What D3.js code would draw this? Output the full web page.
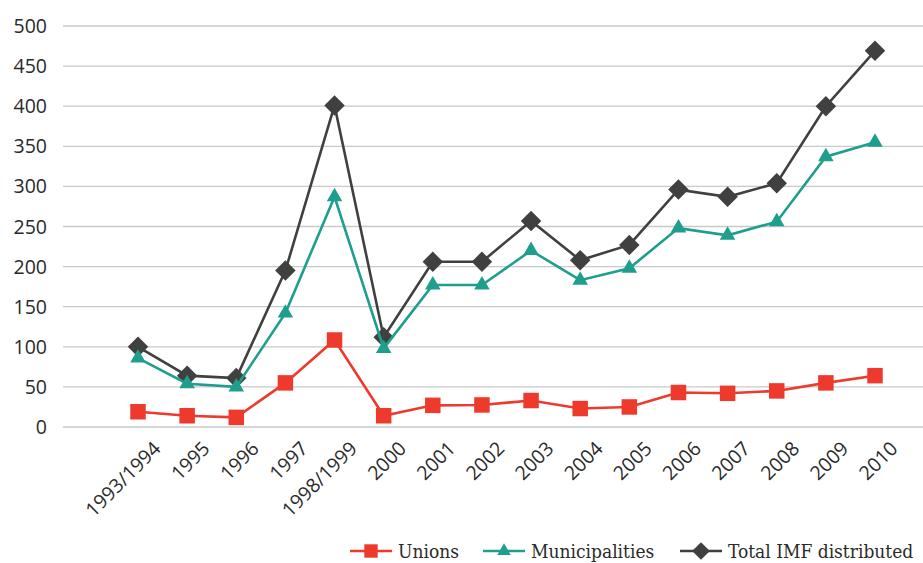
<!DOCTYPE html>
<html><head><meta charset="utf-8">
<script src="https://cdn.jsdelivr.net/npm/d3@7"></script>
<style>body{margin:0;background:#fff;}svg{display:block;font-family:"Open Sans",sans-serif;}
.leg{font-family:"DejaVu Serif Condensed","DejaVu Serif",serif;font-stretch:condensed;}</style>
</head><body><svg id="c" width="923" height="563"></svg>
<script>
const categories = ["1993/1994","1995","1996","1997","1998/1999","2000","2001","2002","2003","2004","2005","2006","2007","2008","2009","2010"];
const unions = [19,14,12,55,108.5,14,27,27.5,33,23,25,43,42,45,55,64];
const municipalities = [86,54,50,142,287,98,177,177,220,183,198,248,239,256,337,355];
const totalIMF = [100,64,61,195,401,112,206,206,257,208,227,296,287,304,400,469];
const yTicks = [0,50,100,150,200,250,300,350,400,450,500];
const seriesNames = ["Unions","Municipalities","Total IMF distributed"];

const svg = d3.select("#c");
const x = d3.scalePoint().domain(categories).range([138,875]);
const y = d3.scaleLinear().domain([0,500]).range([427,26]);

// grid
svg.append("g").selectAll("line").data(yTicks).join("line")
  .attr("x1",63).attr("x2",923).attr("y1",d=>y(d)).attr("y2",d=>y(d))
  .attr("stroke","#c9c9c9").attr("stroke-width",1.3);
svg.append("g").selectAll("text").data(yTicks).join("text")
  .attr("x",47).attr("y",d=>y(d)).attr("dy","0.36em").attr("text-anchor","end")
  .attr("font-size",19.5).attr("fill","#2a2a2a").text(d=>d);

// x labels
svg.append("g").selectAll("text").data(categories).join("text")
  .attr("transform",d=>`translate(${x(d)+19},445) rotate(-45)`)
  .attr("text-anchor","end").attr("dy","0.35em").attr("font-size",19.5).attr("fill","#2a2a2a").text(d=>d);

const diamond = {draw(ctx,size){const r=Math.sqrt(size/2);ctx.moveTo(0,-r);ctx.lineTo(r,0);ctx.lineTo(0,r);ctx.lineTo(-r,0);ctx.closePath();}};
const series = [
  {name:seriesNames[0], values:unions, color:"#ee3a2c", shape:d3.symbolSquare, size:240},
  {name:seriesNames[1], values:municipalities, color:"#1f9e8e", shape:d3.symbolTriangle, size:105},
  {name:seriesNames[2], values:totalIMF, color:"#404040", shape:diamond, size:210}
];
const line = d3.line().x((d,i)=>x(categories[i])).y(d=>y(d));
series.slice().reverse().forEach(s=>{
  const g = svg.append("g");
  g.append("path").attr("d",line(s.values)).attr("fill","none").attr("stroke",s.color).attr("stroke-width",2.6);
  g.selectAll("path.m").data(s.values).join("path").attr("class","m")
    .attr("d",d3.symbol().type(s.shape).size(s.size))
    .attr("transform",(d,i)=>`translate(${x(categories[i])},${y(d)})`).attr("fill",s.color);
});

// legend
const legX = [350,483,680];
const lg = svg.append("g").attr("class","leg");
series.forEach((s,i)=>{
  const g = lg.append("g").attr("transform",`translate(${legX[i]},551)`);
  g.append("line").attr("x1",0).attr("x2",42).attr("stroke",s.color).attr("stroke-width",2.6);
  g.append("path").attr("d",d3.symbol().type(s.shape).size(s.size*0.75)).attr("transform","translate(21,0)").attr("fill",s.color);
  g.append("text").attr("x",48).attr("dy","0.36em").attr("font-size",19).attr("fill","#2a2a2a").text(s.name);
});
</script></body></html>
